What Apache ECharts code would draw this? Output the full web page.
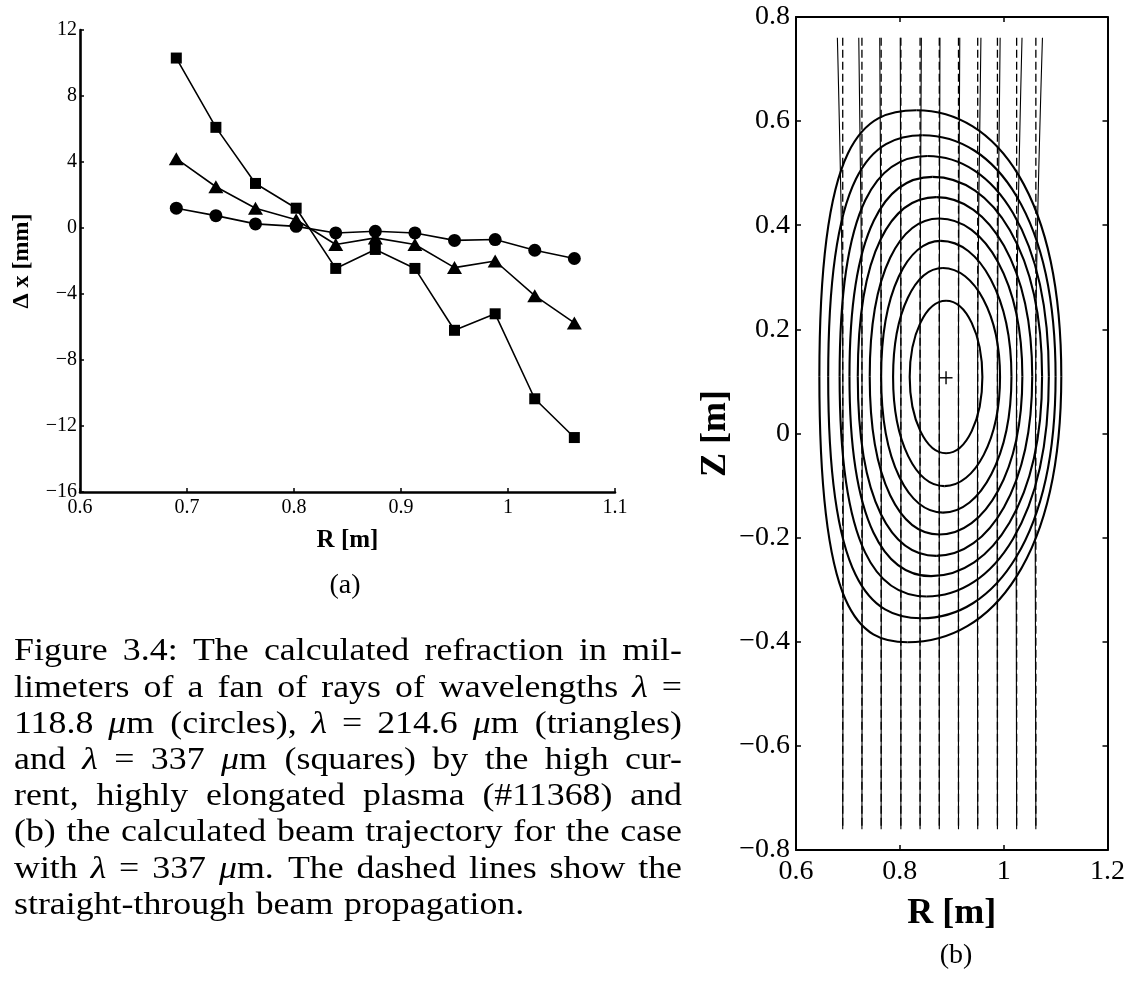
<!DOCTYPE html>
<html>
<head>
<meta charset="utf-8">
<title>Refraction of a fan of rays</title>
<script src="https://cdn.jsdelivr.net/npm/echarts@6/dist/echarts.min.js"></script>
<style>
html, body { margin: 0; padding: 0; background: #fff; }
#chart { width: 1128px; height: 981px; }
</style>
</head>
<body>
<div id="chart"></div>
<script>
// Major radius of each ray of the fan [m]
const rayR = [0.690, 0.727, 0.764, 0.802, 0.839, 0.876, 0.913, 0.950, 0.988, 1.025, 1.062];

// Refraction Δx [mm] of each ray, per wavelength
const dxCircles   = [1.2, 0.75, 0.25, 0.1, -0.3, -0.2, -0.3, -0.75, -0.7, -1.35, -1.85];   // 118.8 µm
const dxTriangles = [4.2, 2.5, 1.2, 0.5, -1.0, -0.6, -1.0, -2.4, -2.0, -4.1, -5.75];       // 214.6 µm
const dxSquares   = [10.3, 6.1, 2.7, 1.2, -2.45, -1.3, -2.45, -6.2, -5.2, -10.35, -12.7];  // 337 µm

// Vertical extent of the beams [m] and height where the refracted beam leaves its launch line
const rayZ = [-0.76, 0.76];
const rayBendZ = 0.2;

// Flux surfaces, innermost first: top point, bottom point, inner and outer edge [m]
const surfTopR   = [0.889, 0.883, 0.879, 0.876, 0.870, 0.863, 0.853, 0.844, 0.832];
const surfTopZ   = [0.255, 0.318, 0.370, 0.413, 0.454, 0.493, 0.533, 0.573, 0.621];
const surfBotR   = [0.889, 0.886, 0.883, 0.876, 0.870, 0.860, 0.851, 0.841, 0.815];
const surfBotZ   = [-0.038, -0.101, -0.152, -0.194, -0.235, -0.274, -0.313, -0.355, -0.401];
const surfInR    = [0.819, 0.787, 0.764, 0.742, 0.719, 0.703, 0.684, 0.662, 0.645];
const surfOutR   = [0.959, 0.993, 1.015, 1.036, 1.055, 1.074, 1.087, 1.100, 1.111];
// How square each surface is on its inner and outer side (0.55 = ellipse)
const surfInSquare  = [0.56, 0.60, 0.63, 0.67, 0.71, 0.75, 0.80, 0.85, 0.90];
const surfOutSquare = [0.56, 0.57, 0.58, 0.60, 0.61, 0.62, 0.64, 0.66, 0.68];

// Magnetic axis [m]
const magAxis = [0.889, 0.107];

// Caption lines
const captionLines = [
  'Figure 3.4:  The calculated refraction in mil-',
  'limeters of a fan of rays of wavelengths λ =',
  '118.8 μm (circles), λ = 214.6 μm (triangles)',
  'and λ = 337 μm (squares) by the high cur-',
  'rent, highly elongated plasma (#11368) and',
  '(b) the calculated beam trajectory for the case',
  'with λ = 337 μm.  The dashed lines show the',
  'straight-through beam propagation.'
];

const SERIF = '"Liberation Serif", "Times New Roman", serif';
const INK = '#000';

function fmtNum(v) {
  const s = String(parseFloat(v.toFixed(2)));
  return s.charAt(0) === '-' ? '\u2212' + s.slice(1) : s;
}

// ---------- panel (b) drawing helpers ----------
function renderSurface(params, api) {
  const tR = api.value(0), tZ = api.value(1), bR = api.value(2), bZ = api.value(3);
  const lR = api.value(4), rR = api.value(5), kL = api.value(6), kR = api.value(7);
  const mZ = (tZ + bZ) / 2, kh = 0.55;
  const P = (r, z) => api.coord([r, z]);
  const seg = (a, c1, c2, b) => ({
    type: 'bezierCurve',
    shape: { x1: a[0], y1: a[1], cpx1: c1[0], cpy1: c1[1], cpx2: c2[0], cpy2: c2[1], x2: b[0], y2: b[1] },
    style: { stroke: INK, lineWidth: 2.1, fill: 'none' }
  });
  const L = P(lR, mZ), T = P(tR, tZ), O = P(rR, mZ), B = P(bR, bZ);
  return {
    type: 'group',
    children: [
      seg(O, P(rR, mZ + kR * (tZ - mZ)), P(tR + kh * (rR - tR), tZ), T),
      seg(T, P(tR - kh * (tR - lR), tZ), P(lR, mZ + kL * (tZ - mZ)), L),
      seg(L, P(lR, mZ - kL * (mZ - bZ)), P(bR - kh * (bR - lR), bZ), B),
      seg(B, P(bR + kh * (rR - bR), bZ), P(rR, mZ - kR * (mZ - bZ)), O)
    ]
  };
}

function renderRay(params, api) {
  const r = api.value(0), dx = api.value(1) / 1000;
  const p0 = api.coord([r, rayZ[0]]), p1 = api.coord([r, rayZ[1]]);
  const path = [p0, api.coord([r, rayBendZ]), api.coord([r - dx, rayZ[1]])];
  return {
    type: 'group',
    children: [
      { type: 'line', shape: { x1: p1[0], y1: p1[1], x2: p0[0], y2: p0[1] },
        style: { stroke: INK, lineWidth: 1.3, lineDash: [8, 4] } },
      { type: 'polyline', shape: { points: path, smooth: 0.35 },
        style: { stroke: INK, lineWidth: 1.1, fill: 'none' } }
    ]
  };
}

function renderCross(params, api) {
  const c = api.coord([api.value(0), api.value(1)]), h = 6.5;
  const st = { stroke: INK, lineWidth: 1.4 };
  return {
    type: 'group',
    children: [
      { type: 'line', shape: { x1: c[0] - h, y1: c[1], x2: c[0] + h, y2: c[1] }, style: st },
      { type: 'line', shape: { x1: c[0], y1: c[1] - h, x2: c[0], y2: c[1] + h }, style: st }
    ]
  };
}

// ---------- caption, justified word by word ----------
const capFont = 32, capScale = 1.12, capLeft = 14, capRight = 682, capTop = 652, capLead = 36.2;
const measureCtx = document.createElement('canvas').getContext('2d');
function wordWidth(w, italic) {
  measureCtx.font = (italic ? 'italic ' : '') + capFont + 'px "Liberation Serif"';
  return measureCtx.measureText(w).width * capScale;
}
const captionElems = [];
captionLines.forEach((line, li) => {
  const words = line.split(/\s+/);
  const widths = words.map(w => wordWidth(w, w === 'λ'));
  const total = widths.reduce((a, b) => a + b, 0);
  const last = li === captionLines.length - 1;
  const gap = last ? wordWidth(' ') * 1.2 : (capRight - capLeft - total) / (words.length - 1);
  let x = capLeft;
  const y = capTop + li * capLead;
  words.forEach((w, wi) => {
    const style = { fill: INK, verticalAlign: 'middle', textVerticalAlign: 'middle',
      font: capFont + 'px ' + SERIF };
    if (w === 'λ') {
      style.font = 'italic ' + capFont + 'px ' + SERIF;
      style.text = w;
    } else if (w.indexOf('μ') >= 0) {
      style.text = w.replace('μ', '{i|μ}');
      style.rich = { i: { fontStyle: 'italic', fontSize: capFont, fontFamily: SERIF, fill: INK } };
      style.fontSize = capFont; style.fontFamily = SERIF;
    } else {
      style.text = w;
    }
    captionElems.push({ type: 'text', x: x, y: y, scaleX: capScale, style: style, silent: true });
    x += widths[wi] + gap;
  });
});

// ---------- chart ----------
const chart = echarts.init(document.getElementById('chart'), null, { renderer: 'canvas' });

const baseAxis = (extra) => Object.assign({
  type: 'value',
  splitLine: { show: false },
  axisLine: { show: true, onZero: false, lineStyle: { color: INK, width: 2 } },
  axisTick: { show: true, inside: true, length: 5, lineStyle: { color: INK, width: 1.5 } },
  axisLabel: { color: INK, fontFamily: SERIF, formatter: fmtNum }
}, extra);

const option = {
  animation: false,
  backgroundColor: '#fff',
  grid: [
    { left: 80, top: 30, width: 535, height: 462 },
    { left: 796, top: 17, width: 313, height: 833 }
  ],
  xAxis: [
    baseAxis({
      gridIndex: 0, min: 0.6, max: 1.1, interval: 0.1,
      axisLine: { show: true, onZero: false, lineStyle: { color: INK, width: 2.6 } },
      axisTick: { show: true, inside: true, length: 4, lineStyle: { color: INK, width: 1.5 } },
      axisLabel: { color: INK, fontFamily: SERIF, fontSize: 20, margin: 6, formatter: fmtNum },
      name: 'R [m]', nameLocation: 'middle', nameGap: 36,
      nameTextStyle: { color: INK, fontFamily: SERIF, fontWeight: 'bold', fontSize: 25 }
    }),
    baseAxis({
      gridIndex: 1, position: 'bottom', min: 0.6, max: 1.2, interval: 0.2,
      axisLabel: { color: INK, fontFamily: SERIF, fontSize: 28, margin: 8, formatter: fmtNum },
      name: 'R [m]', nameLocation: 'middle', nameGap: 46,
      nameTextStyle: { color: INK, fontFamily: SERIF, fontWeight: 'bold', fontSize: 36 }
    }),
    baseAxis({
      gridIndex: 1, position: 'top', min: 0.6, max: 1.2, interval: 0.2,
      axisLabel: { show: false }
    })
  ],
  yAxis: [
    baseAxis({
      gridIndex: 0, min: -16, max: 12, interval: 4,
      axisLine: { show: true, onZero: false, lineStyle: { color: INK, width: 2.6 } },
      axisTick: { show: true, inside: true, length: 4, lineStyle: { color: INK, width: 1.5 } },
      axisLabel: { color: INK, fontFamily: SERIF, fontSize: 20, margin: 3, formatter: fmtNum },
      name: 'Δ x [mm]', nameLocation: 'middle', nameGap: 46, nameRotate: 90,
      nameTextStyle: { color: INK, fontFamily: SERIF, fontWeight: 'bold', fontSize: 24 }
    }),
    baseAxis({
      gridIndex: 1, position: 'left', min: -0.8, max: 0.8, interval: 0.2,
      axisLabel: { color: INK, fontFamily: SERIF, fontSize: 28, margin: 6, formatter: fmtNum },
      name: 'Z [m]', nameLocation: 'middle', nameGap: 62, nameRotate: 90,
      nameTextStyle: { color: INK, fontFamily: SERIF, fontWeight: 'bold', fontSize: 36 }
    }),
    baseAxis({
      gridIndex: 1, position: 'right', min: -0.8, max: 0.8, interval: 0.2,
      axisLabel: { show: false }
    })
  ],
  series: [
    {
      name: '118.8 µm', type: 'line', xAxisIndex: 0, yAxisIndex: 0,
      data: rayR.map((r, i) => [r, dxCircles[i]]),
      symbol: 'circle', symbolSize: 13,
      itemStyle: { color: INK }, lineStyle: { color: INK, width: 1.6 }
    },
    {
      name: '214.6 µm', type: 'line', xAxisIndex: 0, yAxisIndex: 0,
      data: rayR.map((r, i) => [r, dxTriangles[i]]),
      symbol: 'triangle', symbolSize: [15, 13],
      itemStyle: { color: INK }, lineStyle: { color: INK, width: 1.6 }
    },
    {
      name: '337 µm', type: 'line', xAxisIndex: 0, yAxisIndex: 0,
      data: rayR.map((r, i) => [r, dxSquares[i]]),
      symbol: 'rect', symbolSize: 11,
      itemStyle: { color: INK }, lineStyle: { color: INK, width: 1.6 }
    },
    {
      name: 'beams', type: 'custom', xAxisIndex: 1, yAxisIndex: 1, silent: true,
      data: rayR.map((r, i) => [r, dxSquares[i]]),
      renderItem: renderRay
    },
    {
      name: 'flux surfaces', type: 'custom', xAxisIndex: 1, yAxisIndex: 1, silent: true,
      data: surfTopR.map((r, i) => [r, surfTopZ[i], surfBotR[i], surfBotZ[i],
                                    surfInR[i], surfOutR[i], surfInSquare[i], surfOutSquare[i]]),
      encode: { x: 0, y: 1 },
      renderItem: renderSurface
    },
    {
      name: 'magnetic axis', type: 'custom', xAxisIndex: 1, yAxisIndex: 1, silent: true,
      data: [magAxis],
      renderItem: renderCross
    }
  ],
  graphic: [
    { type: 'text', x: 345, y: 586, silent: true,
      style: { text: '(a)', font: '28px ' + SERIF, fill: INK, align: 'center', verticalAlign: 'middle',
               textAlign: 'center', textVerticalAlign: 'middle' } },
    { type: 'text', x: 956, y: 956, silent: true,
      style: { text: '(b)', font: '28px ' + SERIF, fill: INK, align: 'center', verticalAlign: 'middle',
               textAlign: 'center', textVerticalAlign: 'middle' } }
  ].concat(captionElems)
};

chart.setOption(option);
</script>
</body>
</html>
